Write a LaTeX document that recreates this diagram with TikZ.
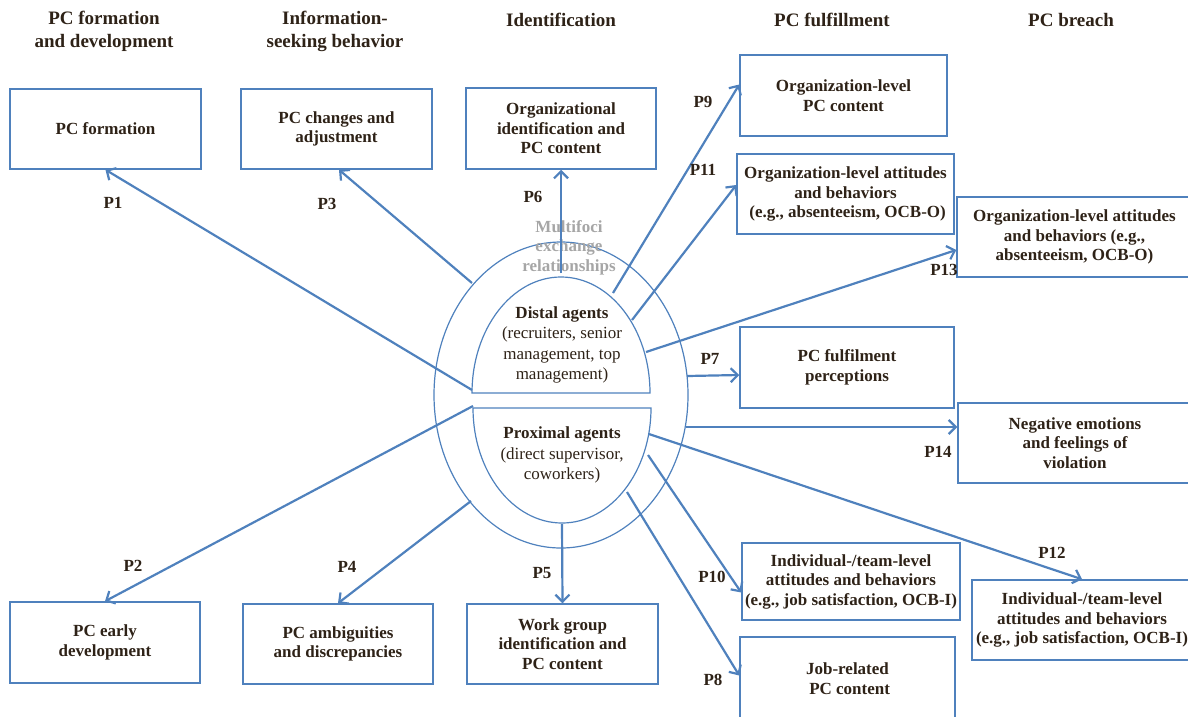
\documentclass[tikz,border=0pt]{standalone}
\usepackage{fontspec}
\setmainfont{Liberation Serif}
\usepackage{xcolor}
\usepackage{tikz}
\usetikzlibrary{positioning,arrows.meta}
\definecolor{linec}{HTML}{4F81BD}
\definecolor{txtc}{HTML}{2E2217}
\definecolor{grayc}{HTML}{A6A6A6}

\begin{document}
\begin{tikzpicture}[x=1pt, y=-1pt,
    box/.style={draw=linec, line width=1.5pt, align=center, text=txtc, inner sep=0pt,
      font=\fontsize{17}{19.5}\selectfont\bfseries},
    head/.style={align=center, text=txtc, font=\fontsize{19}{23}\selectfont\bfseries},
    plabel/.style={text=txtc, font=\fontsize{17}{20}\selectfont\bfseries},
    agent/.style={align=center, text=txtc, font=\fontsize{17}{20.3}\selectfont},
    arr/.style={linec, line width=2.2pt, -{Straight Barb[length=7pt, width=14pt]}},
    ring/.style={linec, line width=1.2pt}]
    \useasboundingbox (0,0) rectangle (1188,716);

    \coordinate (S1) at (472, 390);
    \coordinate (S2) at (473, 406);
    \coordinate (S3) at (472, 283);
    \coordinate (S4) at (471, 501);
    \coordinate (S5) at (562, 524);
    \coordinate (S6) at (561, 273);
    \coordinate (S7) at (687, 376);
    \coordinate (S8) at (627, 492);
    \coordinate (S9) at (613, 293);
    \coordinate (S10) at (648, 455);
    \coordinate (S11) at (632, 320);
    \coordinate (S12) at (649, 434);
    \coordinate (S13) at (646, 352);
    \coordinate (S14) at (686, 427);

    \node [head] (hformation) at (104, 31.5) {PC formation\\and development};
    \node [head] (hseeking) at (335, 31.5) {Information-\\seeking behavior};
    \node [head] (hident) at (561, 20) {Identification};
    \node [head] (hfulfil) at (832, 20) {PC fulfillment};
    \node [head] (hbreach) at (1071, 20) {PC breach};

    \node [box, minimum width=191pt, minimum height=80pt] (formation) at (105.5, 129) {PC formation};
    \node [box, minimum width=191pt, minimum height=80pt] (changes) at (336.5, 129) {PC changes and\\adjustment};
    \node [box, minimum width=190pt, minimum height=81pt] (orgid) at (561, 128.5) {Organizational\\identification and\\PC content};
    \node [box, minimum width=207pt, minimum height=81pt] (orgpc) at (843.5, 95.5) {Organization-level\\PC content};
    \node [box, minimum width=217pt, minimum height=80pt] (orgatt) at (845.5, 194) {Organization-level attitudes\\and behaviors\\\ (e.g., absenteeism, OCB-O)};
    \node [box, minimum width=235pt, minimum height=80pt] (orgbreach) at (1074.5, 237) {Organization-level attitudes\\and behaviors (e.g.,\\absenteeism, OCB-O)};
    \node [box, minimum width=214pt, minimum height=81pt] (perceive) at (847, 367.5) {PC fulfilment\\perceptions};
    \node [box, minimum width=234pt, minimum height=80pt] (emotions) at (1075, 443) {Negative emotions\\and feelings of\\violation};
    \node [box, minimum width=218pt, minimum height=77pt] (teamful) at (851, 581.5) {Individual-/team-level\\attitudes and behaviors\\(e.g., job satisfaction, OCB-I)};
    \node [box, minimum width=220pt, minimum height=80pt] (teambreach) at (1082, 620) {Individual-/team-level\\attitudes and behaviors\\(e.g., job satisfaction, OCB-I)};
    \node [box, minimum width=215pt, minimum height=83pt] (jobpc) at (847.5, 678.5) {Job-related\\\ PC content};
    \node [box, minimum width=190pt, minimum height=81pt] (early) at (105, 642.5) {PC early\\development};
    \node [box, minimum width=190pt, minimum height=80pt] (ambig) at (338, 644) {PC ambiguities\\and discrepancies};
    \node [box, minimum width=191pt, minimum height=80pt] (wgid) at (562.5, 644) {Work group\\identification and\\PC content};

    \draw [ring] (561, 395) ellipse [x radius=127pt, y radius=153pt];
    \draw [ring] (472, 393) arc [start angle=180, end angle=0, x radius=89pt, y radius=116pt] -- cycle;
    \draw [ring] (473, 408) arc [start angle=180, end angle=360, x radius=89pt, y radius=115pt] -- cycle;

    \node [align=center, text=grayc, font=\fontsize{17}{19.5}\selectfont\bfseries] (multifoci) at (569, 247.5) {Multifoci\\exchange\\relationships};
    \node [agent] (distal) at (562, 345) {\textbf{Distal agents}\\(recruiters, senior\\management, top\\management)};
    \node [agent] (proximal) at (562, 455) {\textbf{Proximal agents}\\(direct supervisor,\\coworkers)};

    \draw [arr] (S1) to (formation.south);
    \draw [arr] (S2) to (early.north);
    \draw [arr] (S3) to ([xshift=2.5pt]changes.south);
    \draw [arr] (S4) to (ambig.north);
    \draw [arr] (S5) to (wgid.north);
    \draw [arr] (S6) to (orgid.south);
    \draw [arr] (S7) to ([yshift=-7.5pt]perceive.west);
    \draw [arr] (S8) to ([yshift=3pt]jobpc.west);
    \draw [arr] (S9) to ([yshift=11pt]orgpc.west);
    \draw [arr] (S10) to ([yshift=-11pt]teamful.west);
    \draw [arr] (S11) to ([yshift=9pt]orgatt.west);
    \draw [arr] (S12) to (teambreach.north);
    \draw [arr] (S13) to ([yshift=-13pt]orgbreach.west);
    \draw [arr] (S14) to ([yshift=16pt]emotions.west);

    \node [plabel] (p1) at (113, 203) {P1};
    \node [plabel] (p2) at (133, 566) {P2};
    \node [plabel] (p3) at (327, 204) {P3};
    \node [plabel] (p4) at (347, 567) {P4};
    \node [plabel] (p5) at (542, 573) {P5};
    \node [plabel] (p6) at (533, 197) {P6};
    \node [plabel] (p7) at (710, 359) {P7};
    \node [plabel] (p8) at (713, 680) {P8};
    \node [plabel] (p9) at (703, 102) {P9};
    \node [plabel] (p10) at (712, 577) {P10};
    \node [plabel] (p11) at (703, 170) {P11};
    \node [plabel] (p12) at (1052, 553) {P12};
    \node [plabel] (p13) at (944, 270) {P13};
    \node [plabel] (p14) at (938, 452) {P14};
\end{tikzpicture}
\end{document}
